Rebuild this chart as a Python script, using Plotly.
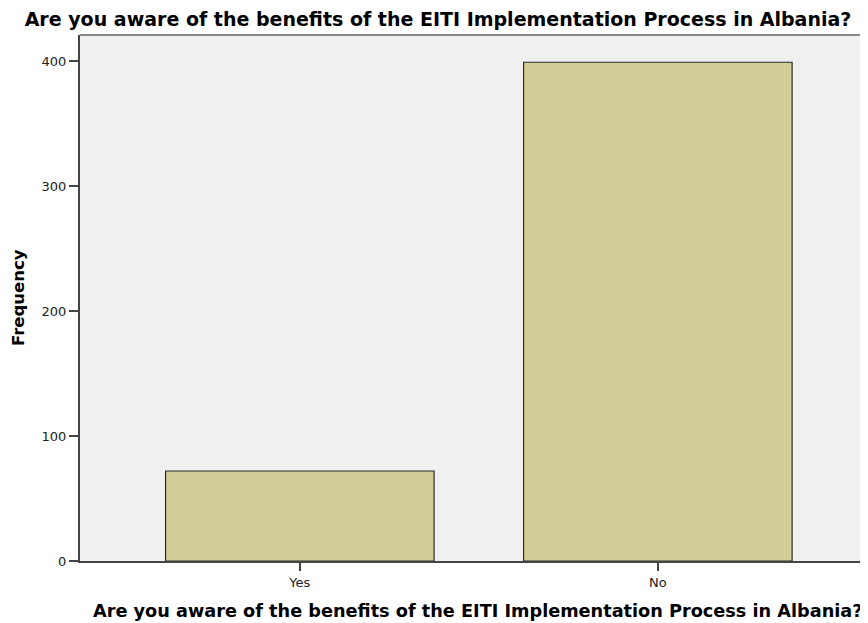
import plotly.graph_objects as go

categories = ["Yes", "No"]
frequencies = [72, 399]
y_ticks = [0, 100, 200, 300, 400]

title_text = "Are you aware of the benefits of the EITI Implementation Process in Albania?"

# page body has an 8px margin; figure is sized/placed to compensate
W, H = 860, 615
L, R, T, B = 72, 0, 27, 62
PW, PH = W - L - R, H - T - B

fig = go.Figure()
fig.add_trace(go.Bar(
    x=categories, y=frequencies, width=0.75,
    marker=dict(color="#d3ce97", line=dict(color="#2a2a2a", width=1.2)),
))

fig.update_layout(
    width=W, height=H,
    margin=dict(l=L, r=R, t=T, b=B),
    paper_bgcolor="white", plot_bgcolor="#f0f0f0",
    showlegend=False,
    title=dict(text=title_text, x=0.5, xanchor="center", xref="container",
               y=1 - 11 / H, yanchor="middle",
               font=dict(family="DejaVu Sans", size=19, color="black", weight="bold")),
    font=dict(family="DejaVu Sans", size=13, color="#222"),
    xaxis=dict(range=[-0.614, 1.587], showgrid=False, zeroline=False,
               showline=True, linecolor="#444", linewidth=2,
               ticks="outside", ticklen=8, tickcolor="#444", tickwidth=1.5,
               tickfont=dict(family="DejaVu Sans", size=13, color="#222")),
    yaxis=dict(range=[0, 420.8], tickvals=y_ticks, showgrid=False, zeroline=False,
               showline=True, linecolor="#444", linewidth=2,
               ticks="outside", ticklen=9, tickcolor="#444", tickwidth=1.5,
               tickfont=dict(family="DejaVu Sans", size=13, color="#222")),
    shapes=[dict(type="line", xref="paper", yref="paper", x0=0, x1=1, y0=1, y1=1,
                 line=dict(color="#888", width=2))],
    annotations=[
        dict(text=title_text, xref="paper", yref="paper", x=(469.5 - L) / PW,
             y=(H - B - 603) / PH, xanchor="center", yanchor="middle", showarrow=False,
             font=dict(family="DejaVu Sans", size=17.7, color="black", weight="bold")),
        dict(text="Frequency", xref="paper", yref="paper", x=(10 - L) / PW, y=0.5,
             xanchor="center", yanchor="middle", textangle=-90, showarrow=False,
             font=dict(family="DejaVu Sans", size=16.5, color="black", weight="bold")),
    ],
)

fig.write_html("out.html")
